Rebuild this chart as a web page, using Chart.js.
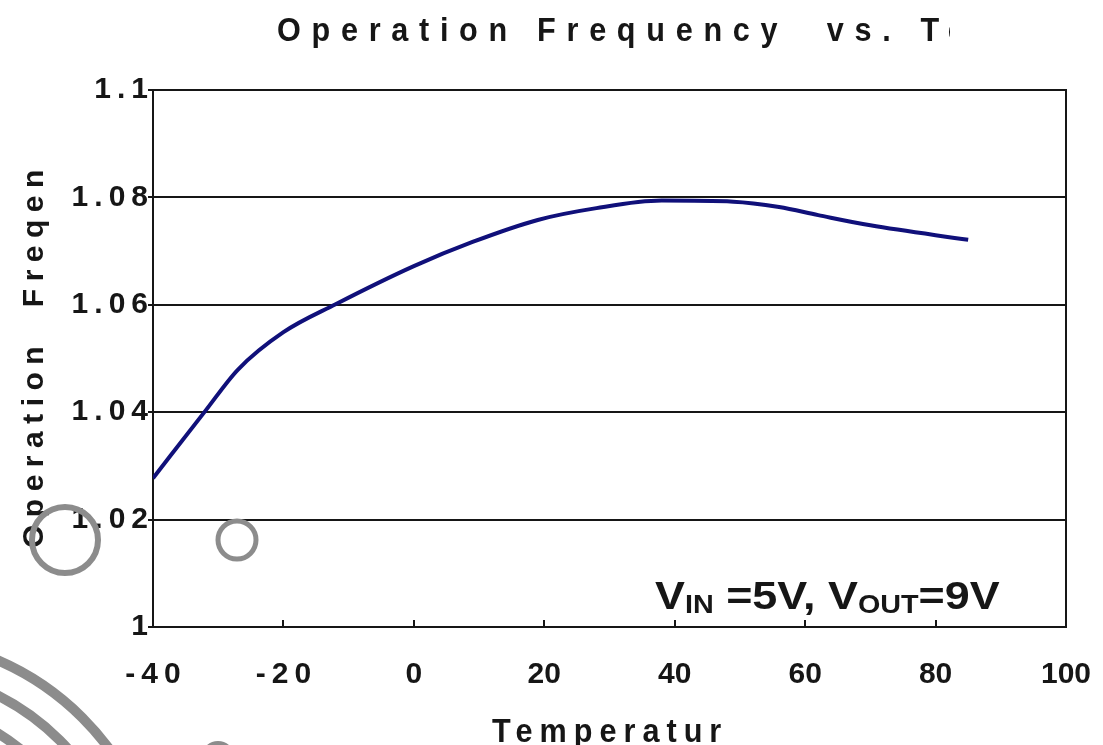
<!DOCTYPE html>
<html>
<head>
<meta charset="utf-8">
<script src="https://cdn.jsdelivr.net/npm/chart.js@4.4.1/dist/chart.umd.min.js"></script>
<style>
  html, body { margin: 0; padding: 0; background: #fff; }
  #wrap { width: 1103px; height: 745px; }
</style>
</head>
<body>
<div id="wrap"><canvas id="chart"></canvas></div>
<script>
// temperature (°C) vs normalised operation frequency
const temps = [-40, -32, -27, -20, -12, 0, 9, 19, 28, 38, 49, 56, 62, 70, 85];
const freqs = [1.0277, 1.0402, 1.0479, 1.0549, 1.0601, 1.0672, 1.0717, 1.0758, 1.0780, 1.0794, 1.0792, 1.0782, 1.0767, 1.0748, 1.0721];

const xTicks = [-40, -20, 0, 20, 40, 60, 80, 100];
const yTicks = [1, 1.02, 1.04, 1.06, 1.08, 1.1];

const titleText = "Operation Frequency  vs. Temperature";
const yTitleText = "Operation  Freqen";
const xTitleText = "Temperature";

const FONT = '"Liberation Sans", Arial, sans-serif';
const INK = "#161616";
const spaced = s => s.split("").join("\u2009");

function drawText(ctx, txt, x, y, size, spacing, sx, rot) {
  ctx.save();
  ctx.translate(x, y);
  if (rot) ctx.rotate(rot);
  ctx.scale(sx, 1);
  ctx.font = "bold " + size + "px " + FONT;
  ctx.letterSpacing = spacing + "px";
  ctx.fillStyle = INK;
  ctx.textBaseline = "alphabetic";
  ctx.fillText(txt, 0, 0);
  ctx.restore();
}

const decor = {
  id: "decor",
  beforeDraw(chart) {
    const c = chart.ctx;
    c.save();
    c.fillStyle = "#fff";
    c.fillRect(0, 0, chart.width, chart.height);
    c.restore();
  },
  beforeDatasetsDraw(chart) {
    const c = chart.ctx, a = chart.chartArea, xs = chart.scales.x;
    c.save();
    c.strokeStyle = INK;
    c.lineWidth = 2;
    c.strokeRect(a.left, a.top, a.right - a.left, a.bottom - a.top);
    // short inward ticks on the x axis
    xTicks.slice(1, -1).forEach(t => {
      const px = Math.round(xs.getPixelForValue(t));
      c.beginPath();
      c.moveTo(px, a.bottom);
      c.lineTo(px, a.bottom - 7);
      c.stroke();
    });
    c.restore();
  },
  afterDraw(chart) {
    const c = chart.ctx;
    // chart title, cut off on the right as in the source
    c.save();
    c.beginPath(); c.rect(0, 0, 950, 80); c.clip();
    drawText(c, titleText, 277, 41, 34, 11.9, 0.9, 0);
    c.restore();
    // axis titles
    drawText(c, yTitleText, 43, 548, 30, 7.5, 1, -Math.PI / 2);
    c.save();
    c.beginPath(); c.rect(0, 690, 728, 60); c.clip();
    drawText(c, xTitleText, 492, 742, 34, 7.8, 0.9, 0);
    c.restore();

    // condition note
    c.save();
    c.translate(655, 0);
    c.scale(1.15, 1);
    c.fillStyle = INK;
    c.textBaseline = "alphabetic";
    let x = 0;
    const part = (t, size, y) => {
      c.font = "bold " + size + "px " + FONT;
      c.fillText(t, x, y);
      x += c.measureText(t).width;
    };
    part("V", 39, 609);
    part("IN", 25, 613);
    part(" =5V, V", 39, 609);
    part("OUT", 25, 613);
    part("=9V", 39, 609);
    c.restore();

    // grey watermark rings
    c.save();
    c.strokeStyle = "#8c8c8c";
    c.lineWidth = 6;
    c.beginPath(); c.arc(65, 540, 33, 0, Math.PI * 2); c.stroke();
    c.lineWidth = 5;
    c.beginPath(); c.arc(237, 540, 19, 0, Math.PI * 2); c.stroke();
    c.lineWidth = 4;
    c.beginPath(); c.arc(218, 758, 15, 0, Math.PI * 2); c.stroke();
    c.lineWidth = 10;
    [272, 240, 207].forEach(r => {
      c.beginPath(); c.arc(-110, 910, r, 0, Math.PI * 2); c.stroke();
    });
    c.restore();
  }
};

new Chart(document.getElementById("chart"), {
  type: "line",
  data: {
    datasets: [{
      data: temps.map((t, i) => ({ x: t, y: freqs[i] })),
      borderColor: "#10107a",
      borderWidth: 4,
      pointRadius: 0,
      cubicInterpolationMode: "monotone",
      fill: false
    }]
  },
  options: {
    responsive: true,
    maintainAspectRatio: false,
    animation: false,
    layout: { padding: { left: 0, top: 90, right: 37, bottom: 0 } },
    plugins: { legend: { display: false }, tooltip: { enabled: false } },
    scales: {
      x: {
        type: "linear",
        min: xTicks[0],
        max: xTicks[xTicks.length - 1],
        afterBuildTicks: s => { s.ticks = xTicks.map(v => ({ value: v })); },
        afterFit: s => { s.height = 118; s.paddingRight = 0; s.paddingLeft = 0; },
        grid: { display: true, drawOnChartArea: false, drawTicks: false },
        border: { display: true, color: INK, width: 2 },
        ticks: {
          color: INK,
          padding: 30,
          maxRotation: 0,
          font: { family: FONT, size: 30, weight: "bold" },
          callback: v => (v <= 0 ? spaced(String(v)) : String(v))
        }
      },
      y: {
        min: yTicks[0],
        max: yTicks[yTicks.length - 1],
        afterBuildTicks: s => { s.ticks = yTicks.map(v => ({ value: v })); },
        afterFit: s => { s.width = 153; },
        grid: { color: INK, lineWidth: 2, drawTicks: true, tickLength: 5 },
        border: { display: true, color: INK, width: 2 },
        ticks: {
          color: INK,
          padding: 0,
          font: { family: FONT, size: 30, weight: "bold" },
          callback: v => spaced(v === 1 ? "1" : (+v.toFixed(2)).toString())
        }
      }
    }
  },
  plugins: [decor]
});
</script>
</body>
</html>
